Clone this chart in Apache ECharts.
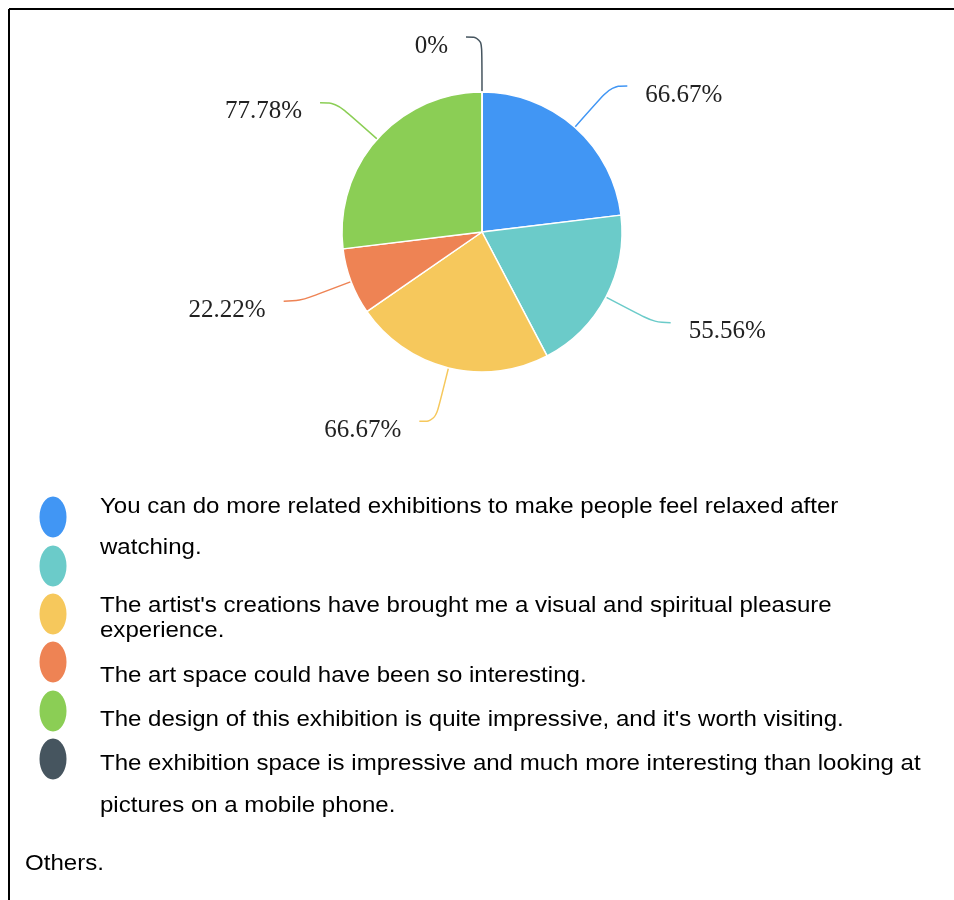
<!DOCTYPE html>
<html>
<head>
<meta charset="utf-8">
<script src="https://cdn.jsdelivr.net/npm/echarts@6/dist/echarts.min.js"></script>
<style>
  html, body { margin: 0; padding: 0; background: #fff; }
  #main { width: 954px; height: 900px; }
</style>
</head>
<body>
<div id="main"></div>
<script>
// survey answers (multiple choice, so the percentages add up to more than 100)
const categories = [
  'You can do more related exhibitions to make people feel relaxed after watching.',
  "The artist's creations have brought me a visual and spiritual pleasure experience.",
  'The art space could have been so interesting.',
  "The design of this exhibition is quite impressive, and it's worth visiting.",
  'The exhibition space is impressive and much more interesting than looking at pictures on a mobile phone.',
  'Others.'
]
// pie slices (clockwise from the top)
const sliceValues = [66.67, 55.56, 66.67, 22.22, 77.78, 0]
const sliceColors = ['#4196F4', '#6BCBC9', '#F6C85C', '#EE8354', '#8BCE55', '#46555F']

// legend text as it wraps in the picture
const legendLines = [
  'You can do more related exhibitions to make people feel relaxed after',
  'watching.',
  "The artist's creations have brought me a visual and spiritual pleasure",
  'experience.',
  'The art space could have been so interesting.',
  "The design of this exhibition is quite impressive, and it's worth visiting.",
  'The exhibition space is impressive and much more interesting than looking at',
  'pictures on a mobile phone.'
]
const legendLineY = [507, 548, 606, 631, 676, 720, 764, 806]
const legendDotY = [517, 566, 614, 662, 711, 759]
const footText = 'Others.'

const chart = echarts.init(document.getElementById('main'))

const legendFont = '22px "Liberation Sans", Arial, sans-serif'
let graphics = []
// frame: top and left edge
graphics.push({ type: 'line', shape: { x1: 9, y1: 9, x2: 954, y2: 9 }, style: { stroke: '#000', lineWidth: 2 } })
graphics.push({ type: 'line', shape: { x1: 9, y1: 9, x2: 9, y2: 900 }, style: { stroke: '#000', lineWidth: 2 } })

sliceColors.forEach((c, i) => {
  graphics.push({
    type: 'ellipse',
    shape: { cx: 53, cy: legendDotY[i], rx: 13.5, ry: 20.5 },
    style: { fill: c }
  })
})
legendLines.forEach((t, i) => {
  graphics.push({
    type: 'text',
    x: 100,
    y: legendLineY[i],
    scaleX: 1.093,
    style: { text: t, fill: '#000', font: legendFont, verticalAlign: 'middle' }
  })
})
graphics.push({
  type: 'text',
  x: 25,
  y: 864,
  scaleX: 1.093,
  style: { text: footText, fill: '#000', font: legendFont, verticalAlign: 'middle' }
})

const option = {
  animation: false,
  color: sliceColors,
  graphic: graphics,
  series: [
    {
      type: 'pie',
      center: [482, 232],
      radius: 140,
      startAngle: 90,
      clockwise: true,
      avoidLabelOverlap: true,
      itemStyle: {
        borderColor: '#fff',
        borderWidth: 1.5
      },
      label: {
        show: true,
        formatter: '{c}%',
        fontFamily: '"Liberation Serif", "Times New Roman", serif',
        fontSize: 25,
        color: '#222',
        distanceToLabelLine: 18
      },
      // labels sit a bit below the end of their line in the original
      labelLayout: { dy: 9 },
      labelLine: {
        show: true,
        length: 55,
        length2: 16,
        smooth: 0.4,
        lineStyle: { width: 1.5 }
      },
      data: categories.map((n, i) => ({ name: n, value: sliceValues[i] }))
    }
  ]
}
chart.setOption(option)
</script>
</body>
</html>
